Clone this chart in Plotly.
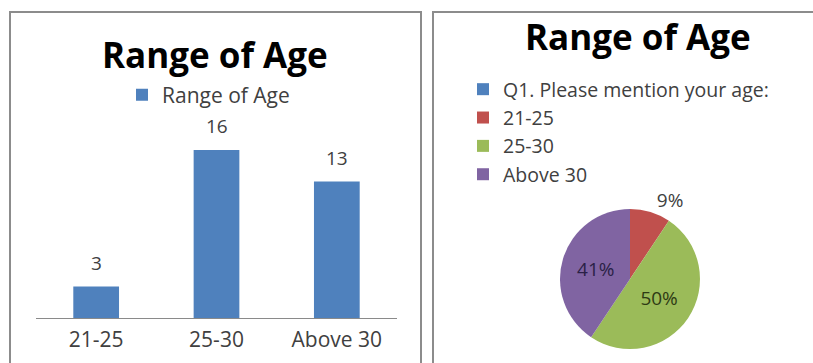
import plotly.graph_objects as go

W, H = 813, 363

# ---- data ----
bar_categories = ["21-25", "25-30", "Above 30"]
bar_values = [3, 16, 13]
bar_series_name = "Range of Age"

pie_labels = ["Q1. Please mention your age:", "21-25", "25-30", "Above 30"]
pie_values = [0, 3, 16, 13]
pie_colors = ["#4F81BD", "#C0504D", "#9BBB59", "#8064A2"]

chart_title = "Range of Age"

FONT = "Open Sans"

def px_x(p):
    return p / W

def px_y(p):
    return (H - p) / H

fig = go.Figure()

fig.add_trace(go.Bar(
    x=bar_categories, y=bar_values, name=bar_series_name,
    marker=dict(color="#4F81BD", line=dict(width=0)),
    width=0.38, showlegend=True, legend="legend",
    xaxis="x", yaxis="y", hoverinfo="skip",
))

fig.add_trace(go.Pie(
    labels=pie_labels, values=pie_values,
    marker=dict(colors=pie_colors, line=dict(width=0)),
    sort=False, direction="clockwise", rotation=0,
    textinfo="percent", texttemplate="%{percent:.0%}",
    textposition=["none", "outside", "inside", "inside"],
    textfont=dict(family=FONT, size=19, color=["#404040", "#404040", "#2e3a14", "#2a2146"]),
    insidetextorientation="horizontal",
    domain=dict(x=[px_x(560), px_x(700)], y=[px_y(349), px_y(209)]),
    legend="legend2", showlegend=True, hoverinfo="skip",
))

annotations = []
for c, v in zip(bar_categories, bar_values):
    annotations.append(dict(
        x=c, y=v, xref="x", yref="y", text=str(v), showarrow=False,
        yanchor="bottom", yshift=9,
        font=dict(family=FONT, size=19, color="#404040"),
    ))
annotations.append(dict(
    x=px_x(215), y=px_y(55), xref="paper", yref="paper", text="<b>%s</b>" % chart_title,
    showarrow=False, xanchor="center", yanchor="middle",
    font=dict(family=FONT, size=35, color="#000000"),
))
annotations.append(dict(
    x=px_x(638), y=px_y(36), xref="paper", yref="paper", text="<b>%s</b>" % chart_title,
    showarrow=False, xanchor="center", yanchor="middle",
    font=dict(family=FONT, size=35, color="#000000"),
))

shapes = [
    dict(type="rect", xref="paper", yref="paper",
         x0=px_x(10), x1=px_x(421), y0=-0.1, y1=px_y(12),
         line=dict(color="#8c8c8c", width=2), fillcolor="rgba(0,0,0,0)"),
    dict(type="rect", xref="paper", yref="paper",
         x0=px_x(433), x1=1.1, y0=-0.1, y1=px_y(12),
         line=dict(color="#8c8c8c", width=2), fillcolor="rgba(0,0,0,0)"),
]

fig.update_layout(
    width=W, height=H,
    margin=dict(l=0, r=0, t=0, b=0),
    paper_bgcolor="white", plot_bgcolor="white",
    font=dict(family=FONT, color="#404040"),
    xaxis=dict(domain=[px_x(36), px_x(397)], showline=True, linecolor="#8a8a8a",
               linewidth=1, ticks="", showgrid=False, zeroline=False,
               tickfont=dict(family=FONT, size=21, color="#404040"),
               ticklabelstandoff=3, fixedrange=True),
    yaxis=dict(domain=[px_y(318), px_y(129)], range=[0, 18], visible=False,
               showgrid=False, zeroline=False, fixedrange=True),
    legend=dict(x=px_x(122), y=px_y(95), xanchor="left", yanchor="middle",
                font=dict(family=FONT, size=21, color="#404040"),
                bgcolor="rgba(0,0,0,0)", itemwidth=30, tracegroupgap=0),
    legend2=dict(x=px_x(463), y=px_y(70), xanchor="left", yanchor="top",
                 font=dict(family=FONT, size=19.5, color="#404040"),
                 bgcolor="rgba(0,0,0,0)", itemwidth=30, tracegroupgap=0),
    annotations=annotations,
    shapes=shapes,
    bargap=0.62,
)

fig.write_html("out.html")
